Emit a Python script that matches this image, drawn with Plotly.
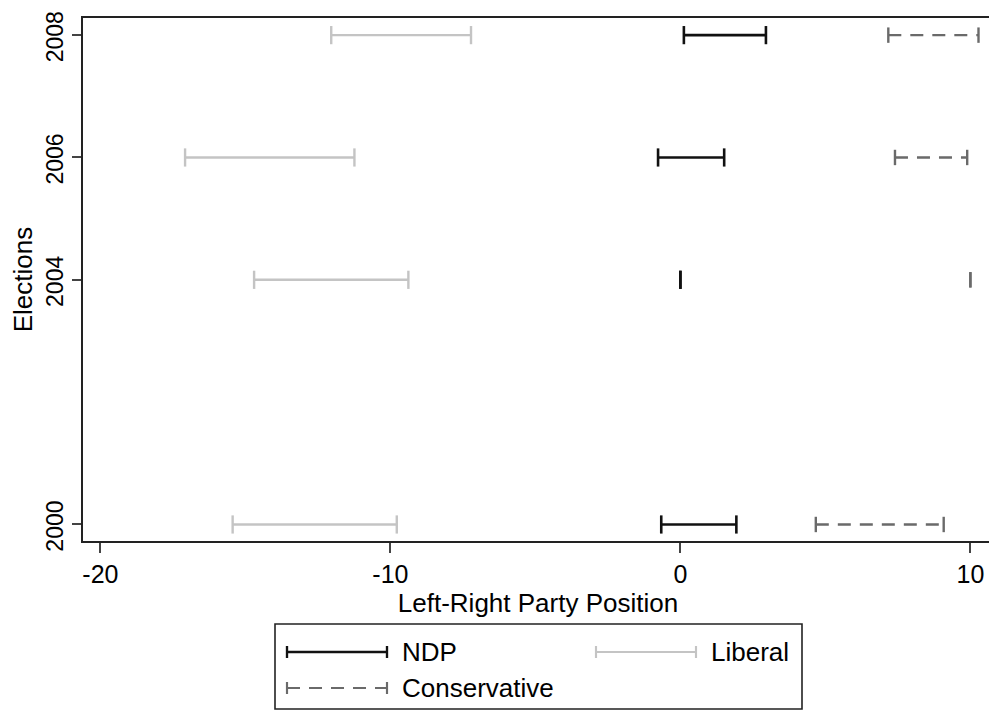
import plotly.graph_objects as go

# ---- data ----
years = [2000, 2004, 2006, 2008]
ndp_lo = [-0.66, 0.0, -0.77, 0.12]
ndp_hi = [1.93, 0.0, 1.51, 2.95]
lib_lo = [-15.44, -14.70, -17.08, -12.04]
lib_hi = [-9.78, -9.38, -11.24, -7.22]
con_lo = [4.67, 10.0, 7.40, 7.17]
con_hi = [9.08, 10.0, 9.89, 10.28]
x_ticks = [-20, -10, 0, 10]
x_ticktext = ["-20", "-10", "0", "10"]
parties = ["NDP", "Liberal", "Conservative"]

# page body has an 8px default margin; size the figure to the visible window
OFF = 8
W, H = 997 - OFF, 713 - OFF
ML, MR, MT, MB = 83 - OFF, 4, 18 - OFF, 172
FONT = "Liberation Sans, Arial, Helvetica, sans-serif"

styles = {
    "NDP": dict(color="#111111", dash="solid", width=2.6, cap=13),
    "Liberal": dict(color="#c4c4c4", dash="solid", width=2.4, cap=13),
    "Conservative": dict(color="#6a6a6a", dash="13px,9px", width=2.4, cap=11),
}
ranges = {
    "NDP": (ndp_lo, ndp_hi),
    "Liberal": (lib_lo, lib_hi),
    "Conservative": (con_lo, con_hi),
}

fig = go.Figure()
for p in parties:
    lo, hi = ranges[p]
    xs, ys = [], []
    for yr, a, b in zip(years, lo, hi):
        xs += [a, b, None]
        ys += [yr, yr, None]
    st = styles[p]
    fig.add_trace(go.Scatter(
        x=xs, y=ys, mode="lines+markers", name=p, showlegend=False,
        line=dict(color=st["color"], width=st["width"], dash=st["dash"]),
        marker=dict(symbol="line-ns-open", size=st["cap"],
                    line=dict(color=st["color"], width=st["width"])),
        hoverinfo="skip",
    ))

# ---- custom legend (box with samples); positions in window pixels ----
pw = W - ML - MR
ph = H - MT - MB
def px(x):
    return (x - OFF - ML) / pw
def py(y):
    return (H - MB - (y - OFF)) / ph

shapes = [dict(type="rect", xref="paper", yref="paper",
               x0=px(275), x1=px(802), y0=py(709), y1=py(624),
               line=dict(color="#222222", width=1.6), fillcolor="white")]
annotations = []
items = [("NDP", 287, 652), ("Liberal", 596, 652), ("Conservative", 287, 688)]
for name, sx, sy in items:
    st = styles[name]
    shapes.append(dict(type="line", xref="paper", yref="paper",
                       x0=px(sx), x1=px(sx + 100), y0=py(sy), y1=py(sy),
                       line=dict(color=st["color"], width=st["width"] * 0.9, dash=st["dash"])))
    for cx in (sx, sx + 100):
        shapes.append(dict(type="line", xref="paper", yref="paper",
                           x0=px(cx), x1=px(cx), y0=py(sy - 6), y1=py(sy + 6),
                           line=dict(color=st["color"], width=st["width"] * 0.9)))
    annotations.append(dict(xref="paper", yref="paper", x=px(sx + 113), y=py(sy),
                            xanchor="left", yanchor="middle", showarrow=False,
                            text=name, font=dict(size=26, color="black", family=FONT)))

fig.update_layout(
    width=W, height=H,
    margin=dict(l=ML, r=MR, t=MT, b=MB),
    paper_bgcolor="white", plot_bgcolor="white",
    font=dict(family=FONT, size=25, color="black"),
    shapes=shapes, annotations=annotations,
    showlegend=False,
)
fig.update_xaxes(
    range=[-20.6, 10.78], tickvals=x_ticks, ticktext=x_ticktext,
    ticks="outside", ticklen=10, ticklabeloverflow="allow", automargin=False,
    tickwidth=2, tickcolor="#444444", showline=True, linecolor="#222222",
    linewidth=2, mirror=True, showgrid=False, zeroline=False,
    tickfont=dict(size=25), title=dict(text="Left-Right Party Position",
                                       font=dict(size=26), standoff=2),
)
fig.update_yaxes(
    range=[1999.73, 2008.28], tickvals=years, tickangle=-90, ticks="outside",
    ticklen=9, tickwidth=2, tickcolor="#444444", showline=True,
    ticklabeloverflow="allow", automargin=False, ticklabelshift=5,
    linecolor="#222222", linewidth=2, mirror=True, showgrid=False,
    zeroline=False, tickfont=dict(size=23),
    title=dict(text="Elections", font=dict(size=26), standoff=2),
)

fig.write_html("out.html")
